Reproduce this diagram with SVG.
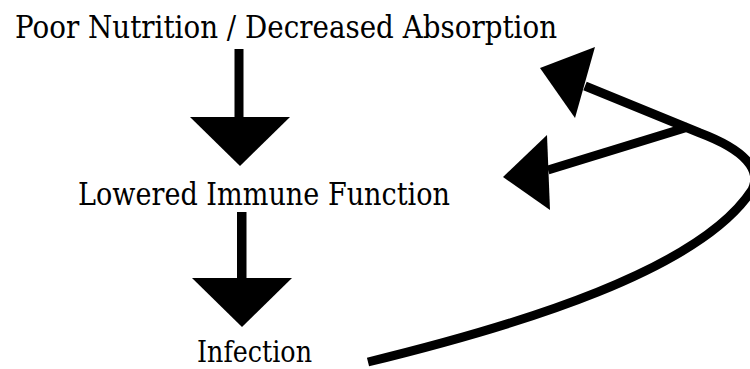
<svg xmlns="http://www.w3.org/2000/svg" width="750" height="369" viewBox="0 0 750 369">
<style>
.lbl{font-family:"DejaVu Serif","Liberation Serif",serif;fill:#000}
.head{fill:#000}
.line{fill:none;stroke:#000;stroke-width:9}
</style>
<rect width="750" height="369" fill="#fff"/>
<g id="connectors">
<rect class="head" x="234.5" y="49" width="9" height="70"/>
<polygon class="head" points="190,117 290,117 240,166"/>
<rect class="head" x="237" y="212" width="9.5" height="67"/>
<polygon class="head" points="192,278 292,278 242,327"/>
<path class="line" stroke-linecap="butt" d="M368,362 C520,325 700,270 752,190 C762,170 745,150 700,133 L585,86"/>
<path class="line" d="M688,127 L548,170"/>
<polygon class="head" points="540,68 595,47 575,118"/>
<polygon class="head" points="547,135 503,177 550,210"/>
</g>
<g id="node-nutrition"><text class="lbl" x="15" y="38" font-size="31" textLength="542" lengthAdjust="spacingAndGlyphs">Poor Nutrition / Decreased Absorption</text></g>
<g id="node-immune"><text class="lbl" x="78" y="205" font-size="31" textLength="372" lengthAdjust="spacingAndGlyphs">Lowered Immune Function</text></g>
<g id="node-infection"><text class="lbl" x="197" y="362" font-size="29" textLength="115" lengthAdjust="spacingAndGlyphs">Infection</text></g>
</svg>
